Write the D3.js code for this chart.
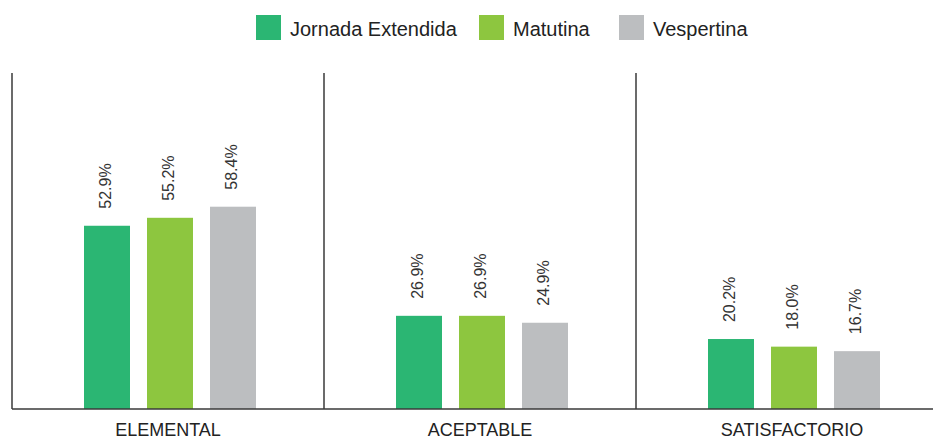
<!DOCTYPE html>
<html>
<head>
<meta charset="utf-8">
<script src="https://cdn.jsdelivr.net/npm/d3@7"></script>
<style>
  body { margin: 0; background: #fff; }
  svg { display: block; font-family: "Liberation Sans", Arial, sans-serif; }
</style>
</head>
<body>
<svg id="chart"></svg>
<script>
// Data
const categories = ['ELEMENTAL', 'ACEPTABLE', 'SATISFACTORIO'];
const series = ['Jornada Extendida', 'Matutina', 'Vespertina'];
const jornadaExtendida = [52.9, 26.9, 20.2];
const matutina = [55.2, 26.9, 18.0];
const vespertina = [58.4, 24.9, 16.7];
const colors = ['#2bb673', '#8dc63f', '#bcbec0'];

const values = [jornadaExtendida, matutina, vespertina];
const rows = categories.map((c, i) => ({
  category: c,
  values: series.map((s, j) => ({ key: s, value: values[j][i] }))
}));

// Set up dimensions
const width = 933;
const height = 440;
const left = 12;
const groupWidth = 312;
const baseline = 409;
const plotTop = 73;

const svg = d3.select('#chart')
  .attr('width', width)
  .attr('height', height);

// Scales
const x0 = d3.scaleBand()
  .domain(categories)
  .range([left, left + groupWidth * categories.length])
  .paddingInner(0);

const x1 = d3.scaleBand()
  .domain(series)
  .range([72, 72 + 172])
  .paddingInner(0.27);

const y = d3.scaleLinear()
  .domain([0, 97])
  .range([baseline, plotTop]);

const color = d3.scaleOrdinal().domain(series).range(colors);

// Group separators (vertical lines)
svg.selectAll('.sep')
  .data(categories)
  .enter()
  .append('line')
  .attr('class', 'sep')
  .attr('x1', d => x0(d))
  .attr('x2', d => x0(d))
  .attr('y1', plotTop)
  .attr('y2', baseline)
  .attr('stroke', '#3a3a3a')
  .attr('stroke-width', 1.5);

// Bars
const groups = svg.selectAll('.group')
  .data(rows)
  .enter()
  .append('g')
  .attr('class', 'group')
  .attr('transform', d => `translate(${x0(d.category)},0)`);

groups.selectAll('rect')
  .data(d => d.values)
  .enter()
  .append('rect')
  .attr('x', d => x1(d.key))
  .attr('y', d => y(d.value))
  .attr('width', x1.bandwidth())
  .attr('height', d => baseline - y(d.value))
  .attr('fill', d => color(d.key));

// Value labels (rotated)
groups.selectAll('.val')
  .data(d => d.values)
  .enter()
  .append('text')
  .attr('class', 'val')
  .attr('transform', d => `translate(${x1(d.key) + x1.bandwidth() / 2 + 4},${y(d.value) - 17}) rotate(-90)`)
  .attr('font-size', 16)
  .attr('fill', '#333')
  .text(d => d.value.toFixed(1) + '%');

// X axis
const xAxis = d3.axisBottom(x0).tickSize(0).tickPadding(14);
svg.append('g')
  .attr('transform', `translate(0,${baseline})`)
  .call(xAxis)
  .call(g => g.select('.domain').remove())
  .call(g => g.selectAll('text')
    .attr('font-size', 18)
    .attr('font-family', '"Liberation Sans", Arial, sans-serif')
    .attr('fill', '#222'));

svg.append('line')
  .attr('x1', left)
  .attr('x2', width)
  .attr('y1', baseline)
  .attr('y2', baseline)
  .attr('stroke', '#3a3a3a')
  .attr('stroke-width', 1.5);

// Legend
const legendX = [256, 479, 619];
const legend = svg.selectAll('.legend')
  .data(series)
  .enter()
  .append('g')
  .attr('class', 'legend')
  .attr('transform', (d, i) => `translate(${legendX[i]},15)`);

legend.append('rect')
  .attr('width', 25)
  .attr('height', 25)
  .attr('fill', d => color(d));

legend.append('text')
  .attr('x', 34)
  .attr('y', 21)
  .attr('font-size', 20)
  .attr('fill', '#222')
  .text(d => d);
</script>
</body>
</html>
